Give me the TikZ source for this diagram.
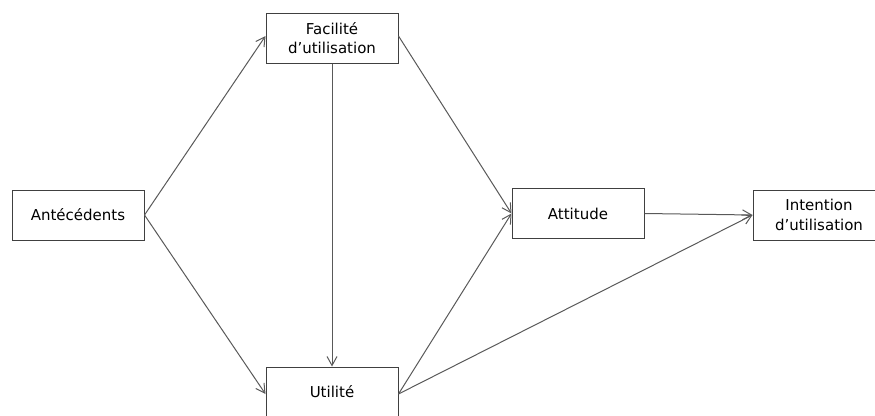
\documentclass[tikz,border=0pt]{standalone}
\usepackage{fontspec}
\setmainfont{DejaVu Sans}
\usetikzlibrary{arrows.meta}

\tikzset{
    boite/.style={draw=black!75, line width=1pt, minimum width=132pt, minimum height=50pt,
        inner sep=0pt, align=center, font=\fontsize{15}{19.5}\selectfont},
    fleche/.style={draw=black!65, line width=1pt, -{Straight Barb[length=9pt,width=10pt]}}
}

\begin{document}
\begin{tikzpicture}[x=1pt,y=-1pt]
    % cadre de l'image
    \useasboundingbox (0,0) rectangle (875,415);

    % les cases
    \node[boite] (ante) at (78,215) {Antécédents};
    \node[boite] (facil) at (332,38) {Facilité\\d’utilisation};
    \node[boite] (util) at (332,392) {Utilité};
    \node[boite] (attit) at (578,213.5) {Attitude};
    \node[boite] (inten) at (819,215) {Intention\\d’utilisation};

    % les flèches
    \draw[fleche] (ante.east) -- ([yshift=2pt]facil.west);
    \draw[fleche] (ante.east) -- ([yshift=-2pt]util.west);
    \draw[fleche] (facil.south) -- (util.north);
    \draw[fleche] ([yshift=2pt]facil.east) -- (attit.west);
    \draw[fleche] ([yshift=-2pt]util.east) -- (attit.west);
    \draw[fleche] ([yshift=-2pt]util.east) -- (inten.west);
    \draw[fleche] (attit.east) -- (inten.west);

\end{tikzpicture}
\end{document}
